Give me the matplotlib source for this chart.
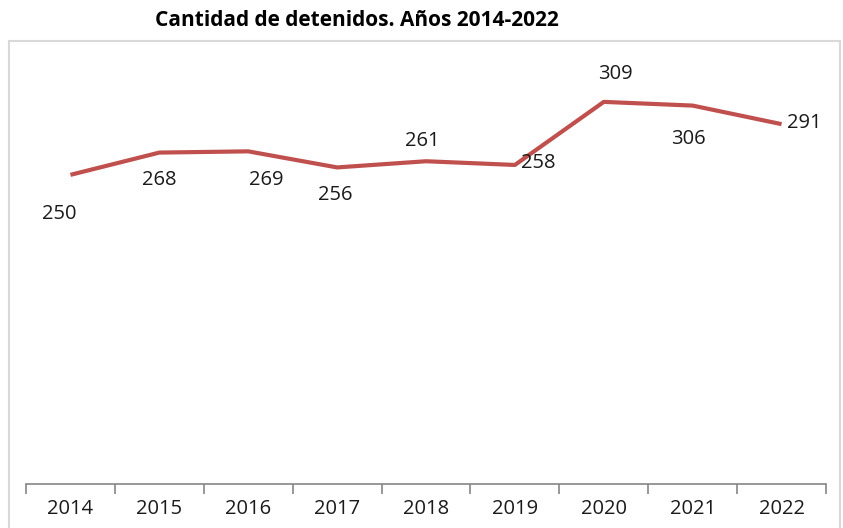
import matplotlib.pyplot as plt
from matplotlib.patches import Rectangle

years = ['2014', '2015', '2016', '2017', '2018', '2019', '2020', '2021', '2022']
detenidos = [250, 268, 269, 256, 261, 258, 309, 306, 291]
# label offsets in pixels (dx, dy) from each point
label_off = [(-11, -39), (0, -27), (18, -29), (-2, -28), (-4, 20),
             (23, 2), (12, 28), (-4, -33), (23, 1)]

plt.rcParams['font.family'] = ['Open Sans', 'DejaVu Sans']

fig = plt.figure(figsize=(8.43, 5.28), dpi=100)
W, H = 843, 528

# chart border (Excel-like frame)
fig.patches.append(Rectangle((9 / W, -0.05), 831 / W, 1.05 - 41 / H,
                             transform=fig.transFigure, fill=False,
                             edgecolor='#d9d9d9', linewidth=1.5))

ax = fig.add_axes([26 / W, (H - 484) / H, 800 / W, 439 / H])
x = list(range(len(years)))
ax.plot(x, detenidos, color='#c0504d', linewidth=3, solid_capstyle='butt')

for xi, v, (dx, dy) in zip(x, detenidos, label_off):
    ax.annotate(str(v), (xi, v), xytext=(dx, dy), textcoords='offset pixels',
                ha='center', va='center', fontsize=14.5, color='#1a1a1a')

ax.set_xlim(-0.5, len(years) - 0.5)
ax.set_ylim(0, 355)
ax.set_yticks([])
for s in ['left', 'top', 'right']:
    ax.spines[s].set_visible(False)
ax.spines['bottom'].set_color('#868686')
ax.spines['bottom'].set_linewidth(1.2)

ax.set_xticks(x)
ax.set_xticklabels(years, fontsize=14.5, color='#1a1a1a')
ax.tick_params(axis='x', which='major', length=0, pad=11)
ax.set_xticks([i - 0.5 for i in range(len(years) + 1)], minor=True)
ax.tick_params(axis='x', which='minor', length=7, width=1.2, color='#868686')

fig.text(357 / W, 1 - 21 / H, 'Cantidad de detenidos. Años 2014-2022',
         ha='center', va='center', fontsize=15, fontweight='bold')

fig.savefig('out.png', dpi=100)
